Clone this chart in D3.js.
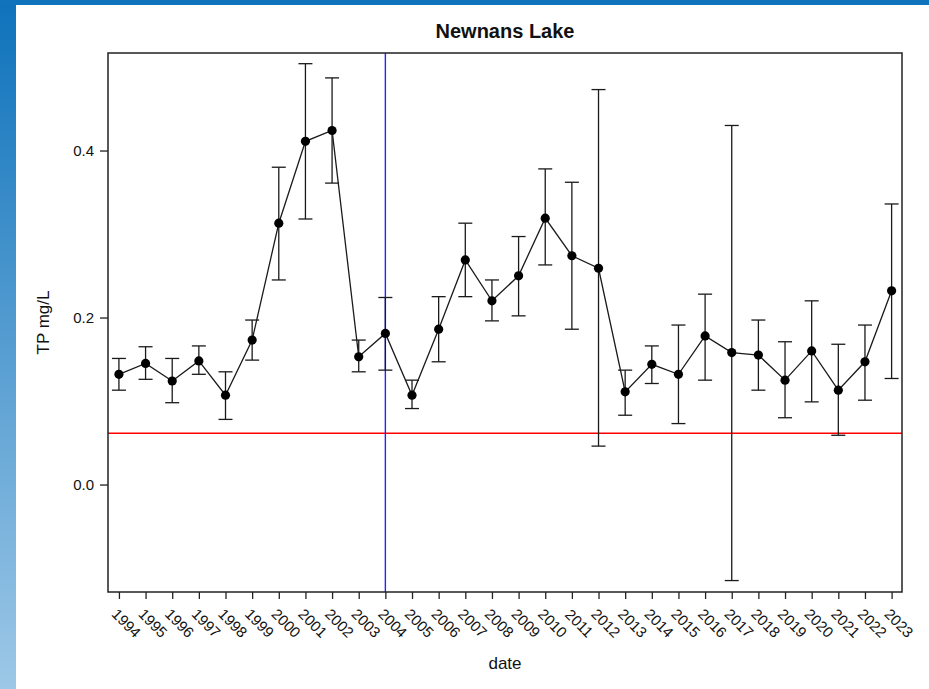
<!DOCTYPE html>
<html>
<head>
<meta charset="utf-8">
<script src="https://cdn.jsdelivr.net/npm/d3@7"></script>
<style>
  html, body { margin: 0; padding: 0; background: #fff; }
  svg text { font-family: "Liberation Sans", Arial, sans-serif; fill: #111; }
</style>
</head>
<body>
<div id="graph"></div>
<script>
// yearly TP means with error bar limits (mg/L)
var years = [1994, 1995, 1996, 1997, 1998, 1999, 2000, 2001, 2002, 2003,
             2004, 2005, 2006, 2007, 2008, 2009, 2010, 2011, 2012, 2013,
             2014, 2015, 2016, 2017, 2018, 2019, 2020, 2021, 2022, 2023];
var tpMean = [0.132, 0.145, 0.124, 0.148, 0.107, 0.173, 0.313, 0.411, 0.424, 0.153,
              0.181, 0.107, 0.186, 0.269, 0.220, 0.250, 0.319, 0.274, 0.259, 0.111,
              0.144, 0.132, 0.178, 0.158, 0.155, 0.125, 0.160, 0.113, 0.147, 0.232];
var tpUpper = [0.151, 0.165, 0.151, 0.166, 0.135, 0.197, 0.380, 0.504, 0.487, 0.173,
               0.224, 0.125, 0.225, 0.313, 0.245, 0.297, 0.378, 0.362, 0.473, 0.137,
               0.166, 0.191, 0.228, 0.430, 0.197, 0.171, 0.220, 0.168, 0.191, 0.336];
var tpLower = [0.113, 0.126, 0.098, 0.132, 0.078, 0.149, 0.245, 0.318, 0.361, 0.135,
               0.137, 0.091, 0.147, 0.225, 0.196, 0.202, 0.263, 0.186, 0.046, 0.083,
               0.121, 0.073, 0.125, -0.115, 0.113, 0.080, 0.099, 0.059, 0.101, 0.127];
var yTicks = [0.0, 0.2, 0.4];
var targetLine = 0.0614;   // red reference line
var breakYear = 2004;      // blue vertical line

var data = years.map(function(y, i) {
    return { year: y, mean: tpMean[i], hi: tpUpper[i], lo: tpLower[i] };
});

var width = 929, height = 689;
var box = { left: 108, top: 53, right: 902, bottom: 592 };

var svg = d3.select("#graph")
  .append("svg")
    .attr("width", width)
    .attr("height", height);

// page frame: blue strip on top and a gradient strip on the left
var grad = svg.append("defs").append("linearGradient")
    .attr("id", "side")
    .attr("x1", 0).attr("y1", 0).attr("x2", 0).attr("y2", 1);
grad.append("stop").attr("offset", "0%").attr("stop-color", "#0e72bb");
grad.append("stop").attr("offset", "100%").attr("stop-color", "#9dc8e7");

svg.append("rect").attr("x", 0).attr("y", 0).attr("width", 16).attr("height", height)
    .attr("fill", "url(#side)");
svg.append("rect").attr("x", 0).attr("y", 0).attr("width", width).attr("height", 5)
    .attr("fill", "#0f74bc");

var x = d3.scaleLinear()
    .domain([1993.59, 2023.39])
    .range([box.left, box.right]);

var y = d3.scaleLinear()
    .domain([-0.1287, 0.5168])
    .range([box.bottom, box.top]);

var ink = "#1a1a1a";

// reference lines
svg.append("line")
    .attr("x1", box.left).attr("x2", box.right)
    .attr("y1", y(targetLine)).attr("y2", y(targetLine))
    .attr("stroke", "#ff0000").attr("stroke-width", 1.3);

svg.append("line")
    .attr("x1", x(breakYear)).attr("x2", x(breakYear))
    .attr("y1", box.top).attr("y2", box.bottom)
    .attr("stroke", "#2525ff").attr("stroke-width", 1.4);

// error bars
var bars = svg.append("g").attr("class", "errorbars")
  .selectAll("g")
    .data(data)
    .enter()
    .append("g");

bars.append("line")
    .attr("x1", function(d) { return x(d.year); })
    .attr("x2", function(d) { return x(d.year); })
    .attr("y1", function(d) { return y(d.lo); })
    .attr("y2", function(d) { return y(d.hi); })
    .attr("stroke", ink).attr("stroke-width", 1.3);

bars.selectAll("line.cap")
    .data(function(d) { return [{ year: d.year, v: d.lo }, { year: d.year, v: d.hi }]; })
    .enter()
    .append("line")
    .attr("class", "cap")
    .attr("x1", function(d) { return x(d.year) - 7; })
    .attr("x2", function(d) { return x(d.year) + 7; })
    .attr("y1", function(d) { return y(d.v); })
    .attr("y2", function(d) { return y(d.v); })
    .attr("stroke", ink).attr("stroke-width", 1.3);

// connecting line + points
var line = d3.line()
    .x(function(d) { return x(d.year); })
    .y(function(d) { return y(d.mean); });

svg.append("path")
    .datum(data)
    .attr("d", line)
    .attr("fill", "none")
    .attr("stroke", ink)
    .attr("stroke-width", 1.3);

svg.append("g")
  .selectAll("circle")
    .data(data)
    .enter()
    .append("circle")
    .attr("cx", function(d) { return x(d.year); })
    .attr("cy", function(d) { return y(d.mean); })
    .attr("r", 4.6)
    .attr("fill", "#000");

// plot box
svg.append("rect")
    .attr("x", box.left).attr("y", box.top)
    .attr("width", box.right - box.left).attr("height", box.bottom - box.top)
    .attr("fill", "none").attr("stroke", "#222").attr("stroke-width", 1.5);

// y axis
var yAxis = svg.append("g")
    .attr("transform", "translate(" + box.left + ",0)")
    .call(d3.axisLeft(y).tickValues(yTicks).tickFormat(d3.format(".1f")).tickSize(8).tickPadding(6));
yAxis.select(".domain").remove();
yAxis.selectAll(".tick line").attr("stroke", "#222").attr("stroke-width", 1.3);
yAxis.selectAll("text").attr("font-size", 15).attr("font-family", "Liberation Sans, Arial, sans-serif").attr("fill", "#111");

// x axis with slanted year labels
var xAxis = svg.append("g")
    .attr("transform", "translate(0," + box.bottom + ")")
    .call(d3.axisBottom(x).tickValues(years).tickFormat(d3.format("d")).tickSize(7));
xAxis.select(".domain").remove();
xAxis.selectAll(".tick line").attr("stroke", "#222").attr("stroke-width", 1.3);
xAxis.selectAll("text")
    .attr("font-size", 15)
    .attr("font-family", "Liberation Sans, Arial, sans-serif")
    .attr("fill", "#111")
    .attr("text-anchor", "middle")
    .attr("dy", null)
    .attr("y", 0)
    .attr("dominant-baseline", "central")
    .attr("transform", "translate(7,31) rotate(45)");

// titles
svg.append("text")
    .attr("x", (box.left + box.right) / 2)
    .attr("y", 38)
    .attr("text-anchor", "middle")
    .attr("font-size", 20)
    .attr("font-weight", "bold")
    .text("Newnans Lake");

svg.append("text")
    .attr("x", (box.left + box.right) / 2)
    .attr("y", 669)
    .attr("text-anchor", "middle")
    .attr("font-size", 17)
    .text("date");

svg.append("text")
    .attr("transform", "translate(49," + ((box.top + box.bottom) / 2) + ") rotate(-90)")
    .attr("text-anchor", "middle")
    .attr("font-size", 17)
    .text("TP mg/L");
</script>
</body>
</html>
